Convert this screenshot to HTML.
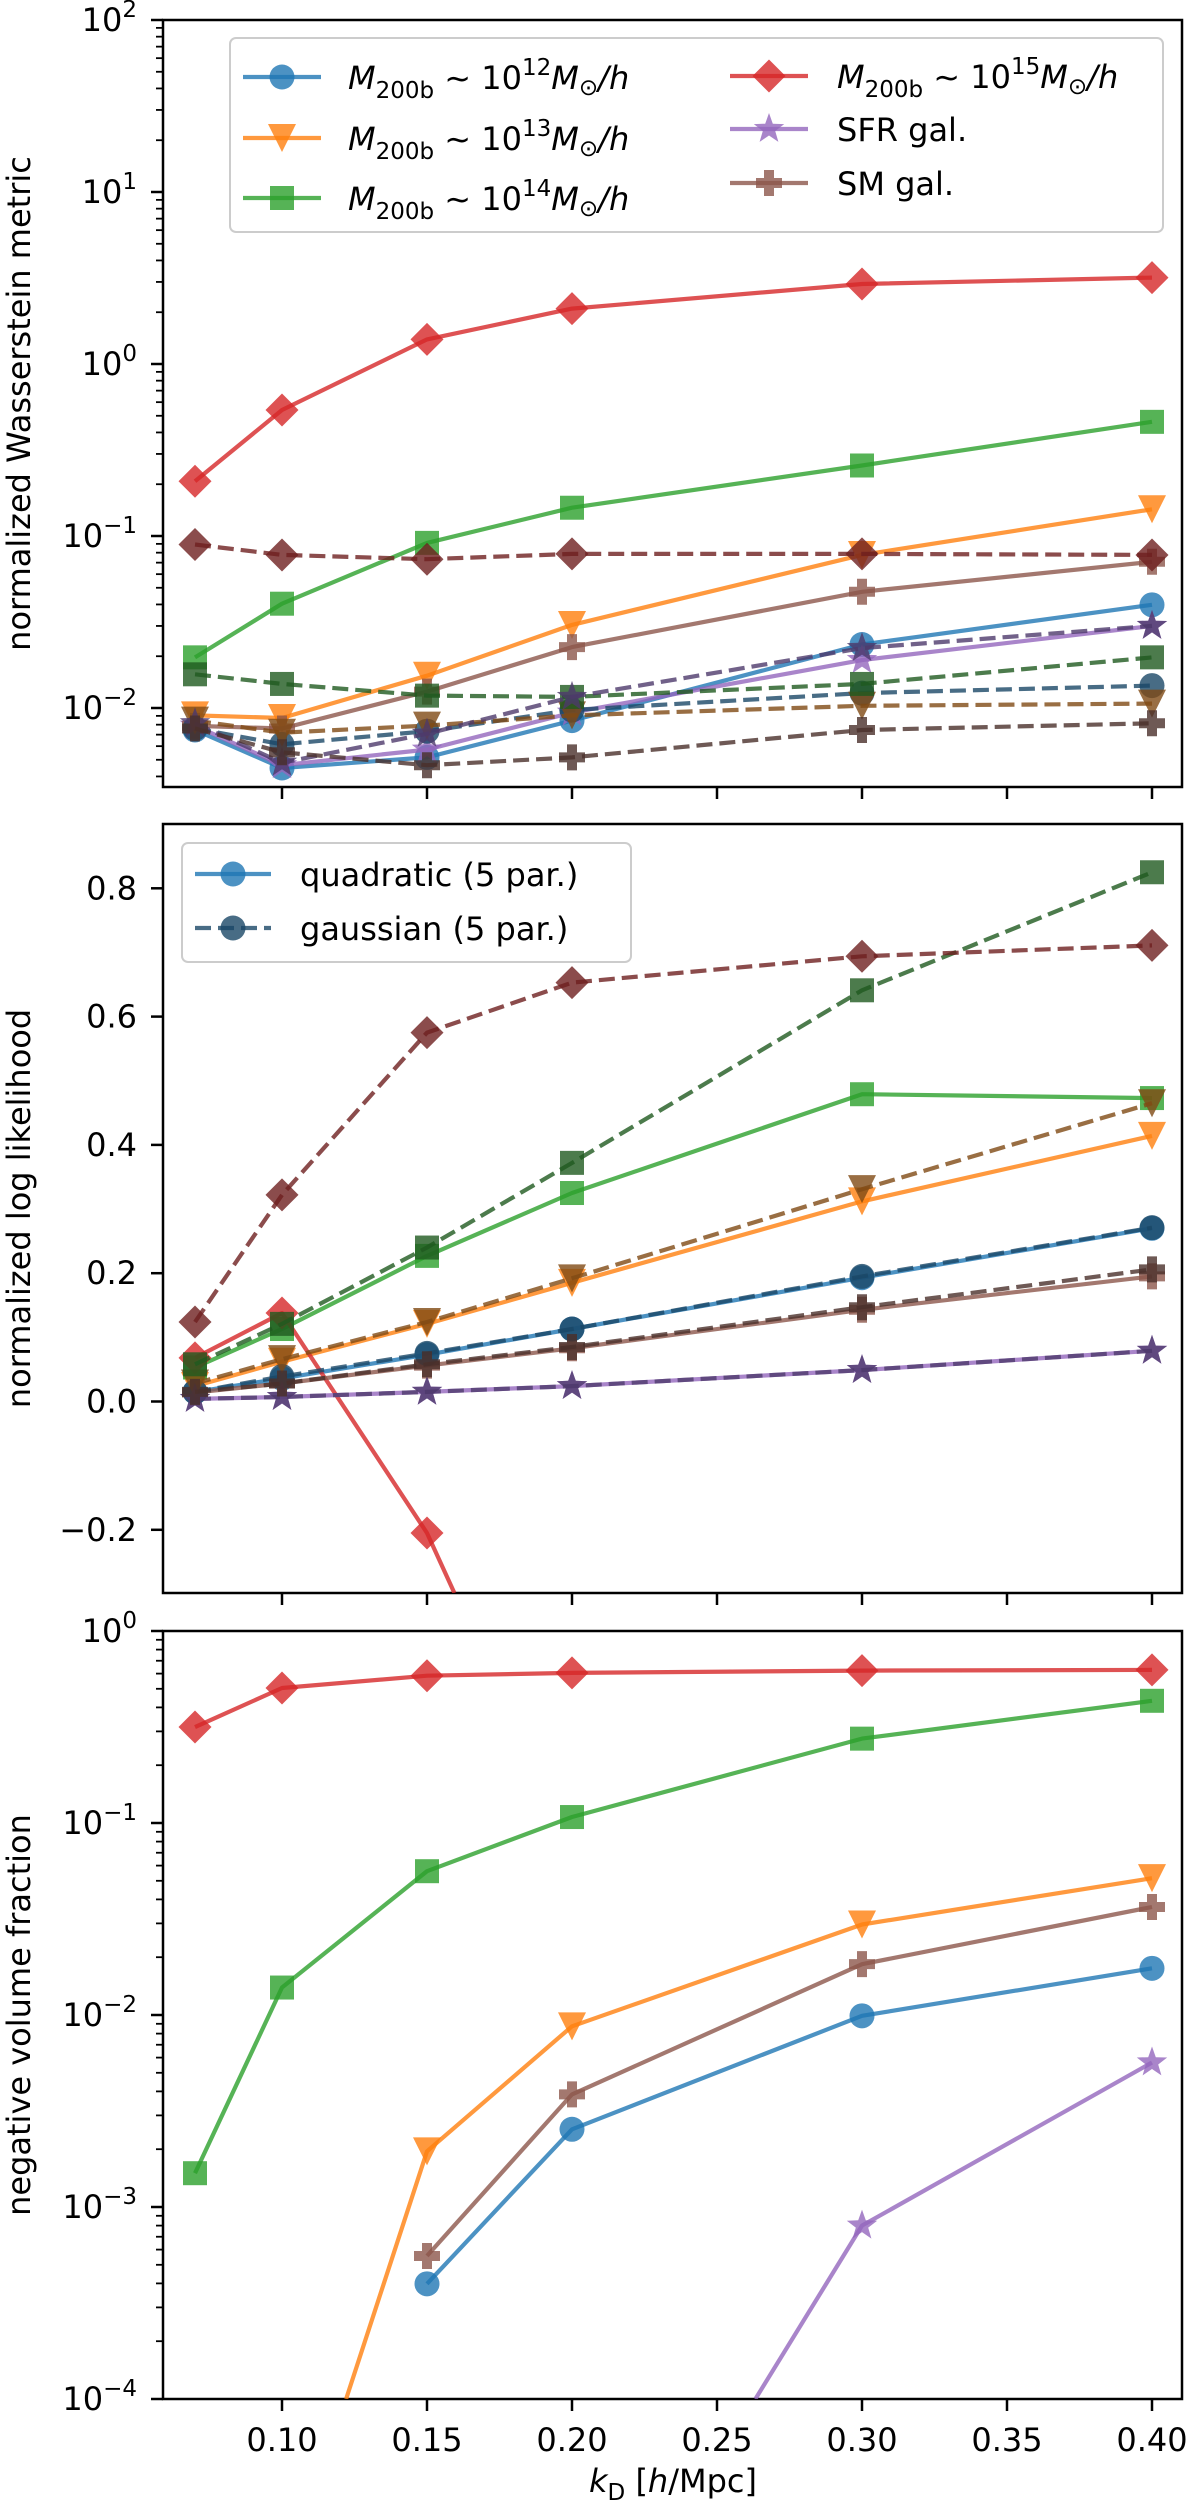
<!DOCTYPE html>
<html><head><meta charset="utf-8"><style>
html,body{margin:0;padding:0;background:#fff;width:1200px;height:2510px;overflow:hidden;}
svg{display:block;overflow:hidden;font-family:"DejaVu Sans","Liberation Sans",sans-serif;}
</style></head><body>
<svg id="fig" width="1200" height="2510" viewBox="0 0 1200 2510" xmlns="http://www.w3.org/2000/svg">
<defs>
<clipPath id="c1"><rect x="163" y="20" width="1019" height="767"/></clipPath>
<clipPath id="c2"><rect x="163" y="824" width="1019" height="769"/></clipPath>
<clipPath id="c3"><rect x="163" y="1631" width="1019" height="768"/></clipPath>
</defs>
<g id="root"></g>
</svg>
<script>
const ks = [0.07, 0.10, 0.15, 0.20, 0.30, 0.40];
// Panel 1: normalized Wasserstein metric (quadratic solid)
const w_m12 = [0.00745, 0.00448, 0.00516, 0.00845, 0.0234, 0.0398];
const w_m13 = [0.00906, 0.00875, 0.0154, 0.0304, 0.0776, 0.143];
const w_m14 = [0.0197, 0.0404, 0.0912, 0.146, 0.257, 0.461];
const w_m15 = [0.208, 0.54, 1.39, 2.1, 2.92, 3.18];
const w_sfr = [0.0079, 0.00465, 0.00573, 0.0094, 0.019, 0.030];
const w_sm  = [0.00787, 0.0076, 0.01245, 0.0226, 0.0474, 0.0708];
// Panel 1 gaussian dashed
const wg_m12 = [0.0076, 0.00615, 0.00733, 0.00973, 0.0122, 0.0135];
const wg_m13 = [0.00845, 0.00718, 0.0079, 0.00906, 0.0103, 0.0106];
const wg_m14 = [0.0157, 0.0138, 0.0118, 0.0116, 0.0138, 0.0197];
const wg_m15 = [0.0893, 0.0776, 0.0733, 0.0787, 0.0787, 0.0776];
const wg_sfr = [0.00815, 0.00481, 0.00708, 0.0116, 0.0223, 0.030];
const wg_sm  = [0.0076, 0.00553, 0.00465, 0.00516, 0.00745, 0.00815];
// Panel 2: normalized log likelihood
const l_m12 = [0.015, 0.036, 0.073, 0.113, 0.193, 0.270];
const l_m13 = [0.024, 0.062, 0.121, 0.185, 0.312, 0.414];
const l_m14 = [0.053, 0.113, 0.227, 0.325, 0.479, 0.473];
const l_m15 = [0.068, 0.138, -0.205, -0.70, -1.5, -2.0];
const l_sfr = [0.004, 0.007, 0.015, 0.024, 0.049, 0.079];
const l_sm  = [0.014, 0.028, 0.056, 0.083, 0.143, 0.195];
const lg_m12 = [0.015, 0.039, 0.075, 0.113, 0.195, 0.271];
const lg_m13 = [0.028, 0.066, 0.124, 0.192, 0.331, 0.465];
const lg_m14 = [0.058, 0.121, 0.240, 0.372, 0.641, 0.825];
const lg_m15 = [0.124, 0.322, 0.575, 0.653, 0.694, 0.711];
const lg_sfr = [0.004, 0.007, 0.015, 0.024, 0.049, 0.079];
const lg_sm  = [0.015, 0.028, 0.058, 0.085, 0.147, 0.206];
// Panel 3: negative volume fraction (null = zero)
const n_m12 = [null, null, 0.000398, 0.00254, 0.0099, 0.0175];
const n_m13 = [null, 0.0000095, 0.00195, 0.00873, 0.0296, 0.0516];
const n_m14 = [0.0015, 0.0139, 0.0561, 0.1074, 0.275, 0.433];
const n_m15 = [0.316, 0.505, 0.585, 0.605, 0.622, 0.627];
const n_sfr = [null, null, null, 0.0000028, 0.00080, 0.00566];
const n_sm  = [null, null, 0.000556, 0.00386, 0.0184, 0.0365];
const xTicks = [0.10, 0.15, 0.20, 0.25, 0.30, 0.35, 0.40];
const xTickLabels = ["0.10","0.15","0.20","0.25","0.30","0.35","0.40"];
const linTicks = [-0.2, 0.0, 0.2, 0.4, 0.6, 0.8];
const linTickLabels = ["\u22120.2","0.0","0.2","0.4","0.6","0.8"];

const NS = "http://www.w3.org/2000/svg";
const root = document.getElementById('root');
const L = 163, R = 1182;
function X(k){ return 1152 - (0.4 - k) * 2900; }
const P = [
  {top:20, bot:787, y:v => 20 + (2 - Math.log10(v)) * 172, clip:'c1'},
  {top:824, bot:1593, y:v => 1401.5 - v * 641.5, clip:'c2'},
  {top:1631, bot:2399, y:v => 1631 + (0 - Math.log10(v)) * 192, clip:'c3'}
];
function mk(tag, attrs, parent){
  const e = document.createElementNS(NS, tag);
  for (const a in attrs) e.setAttribute(a, attrs[a]);
  (parent || root).appendChild(e);
  return e;
}
const C = {m12:'#1f77b4', m13:'#ff7f0e', m14:'#2ca02c', m15:'#d62728', sfr:'#9467bd', sm:'#8c564b'};
const D = {m12:'#1a4766', m13:'#7f4a14', m14:'#1f5a1f', m15:'#6e1f1f', sfr:'#4e3a6b', sm:'#4a302a'};
const MK = {m12:'o', m13:'v', m14:'s', m15:'D', sfr:'*', sm:'P'};
function marker(type, cx, cy, color, g, s){
  s = s || 1;
  let e;
  if (type === 'o') e = mk('circle', {cx:cx, cy:cy, r:12.5*s}, g);
  else if (type === 'v') { const a=14*s; e = mk('polygon', {points:`${cx-a},${cy-a} ${cx+a},${cy-a} ${cx},${cy+a}`}, g); }
  else if (type === 's') { const a=12*s; e = mk('rect', {x:cx-a, y:cy-a, width:2*a, height:2*a}, g); }
  else if (type === 'D') { const a=16.5*s; e = mk('polygon', {points:`${cx},${cy-a} ${cx+a},${cy} ${cx},${cy+a} ${cx-a},${cy}`}, g); }
  else if (type === '*') {
    let pts=[]; for (let i=0;i<10;i++){ const r=(i%2?6.5:16)*s; const t=-Math.PI/2+i*Math.PI/5; pts.push((cx+r*Math.cos(t)).toFixed(1)+','+(cy+r*Math.sin(t)).toFixed(1)); }
    e = mk('polygon', {points:pts.join(' ')}, g);
  } else { const a=13*s, b=5*s; e = mk('polygon', {points:`${cx-b},${cy-a} ${cx+b},${cy-a} ${cx+b},${cy-b} ${cx+a},${cy-b} ${cx+a},${cy+b} ${cx+b},${cy+b} ${cx+b},${cy+a} ${cx-b},${cy+a} ${cx-b},${cy+b} ${cx-a},${cy+b} ${cx-a},${cy-b} ${cx-b},${cy-b}`}, g); }
  e.setAttribute('fill', color);
  e.setAttribute('fill-opacity', '0.8');
  return e;
}
// clip a segment to y range [top, bot]; returns null if fully outside
function clipSeg(a, b, top, bot){
  let [x1,y1] = a, [x2,y2] = b;
  if ((y1 < top && y2 < top) || (y1 > bot && y2 > bot)) return null;
  function at(y){ const t = (y - y1) / (y2 - y1); return [x1 + t*(x2-x1), y]; }
  let p = [x1,y1], q = [x2,y2];
  if (y1 < top) p = at(top); else if (y1 > bot) p = at(bot);
  if (y2 < top) q = at(top); else if (y2 > bot) q = at(bot);
  return [p, q];
}
function series(pi, vals, key, dashed, name){
  const p = P[pi];
  const g = mk('g', {'clip-path':`url(#${p.clip})`});
  
  
  const col = dashed ? D[key] : C[key];
  let segs = [], cur = [];
  vals.forEach((v,i)=>{ if (v===null || v<=0 && pi!==1){ if(cur.length) segs.push(cur); cur=[]; } else cur.push([X(ks[i]), p.y(v)]); });
  if (cur.length) segs.push(cur);
  // clip each run to the panel
  let runs = [];
  segs.forEach(s=>{
    if (s.length === 1) return;
    let run = [];
    for (let i=0;i<s.length-1;i++){
      const c = clipSeg(s[i], s[i+1], p.top, p.bot);
      if (!c) { if (run.length) runs.push(run); run = []; continue; }
      if (!run.length) run.push(c[0]);
      else { const last = run[run.length-1]; if (Math.abs(last[0]-c[0][0])>0.01 || Math.abs(last[1]-c[0][1])>0.01) { runs.push(run); run=[c[0]]; } }
      run.push(c[1]);
      if (c[1][0] !== s[i+1][0] || c[1][1] !== s[i+1][1]) { runs.push(run); run = []; }
    }
    if (run.length) runs.push(run);
  });
  runs.forEach(s=>{
    const pl = mk('polyline', {points:s.map(q=>q[0].toFixed(1)+','+q[1].toFixed(1)).join(' '), fill:'none', stroke:col, 'stroke-width':4.2, 'stroke-opacity':0.8, 'stroke-linejoin':'round'}, g);
    if (dashed) pl.setAttribute('stroke-dasharray', '16 7');
    
    
  });
  vals.forEach((v,i)=>{ if (v===null || (v<=0 && pi!==1)) return;
    const cy = p.y(v); if (cy < p.top-10 || cy > p.bot+10) return;
    const m = marker(MK[key], X(ks[i]), cy, col, g);
    
    
  });
}
function txt(x, y, s, attrs){
  const t = mk('text', Object.assign({x:x, y:y, 'font-size':32, fill:'#000'}, attrs||{}));
  t.textContent = s; return t;
}
function pow10Label(x, y, n){
  const t = mk('text', {x:x, y:y, 'font-size':32, 'text-anchor':'end', fill:'#000'});
  
  
  const a = mk('tspan', {}, t); a.textContent = '10';
  const b = mk('tspan', {dy:-14, 'font-size':23}, t); b.textContent = n < 0 ? '\u2212' + (-n) : String(n);
}
// axes frames & ticks
P.forEach((p,pi)=>{
  const f = mk('rect', {x:L, y:p.top, width:R-L, height:p.bot-p.top, fill:'none', stroke:'#000', 'stroke-width':2.5});
  
  
  xTicks.forEach((k,i)=>{
    const t = mk('line', {x1:X(k), x2:X(k), y1:p.bot, y2:p.bot+12, stroke:'#000', 'stroke-width':2.5});
    
    
    if (pi === 2) { const lb = txt(X(k), p.bot+52, xTickLabels[i], {'text-anchor':'middle'});   }
  });
  if (pi !== 1) {
    const lo = pi===0 ? -3 : -4, hi = pi===0 ? 2 : 0;
    for (let d=lo; d<=hi; d++){
      for (let m=1; m<=9; m++){
        const v = m*Math.pow(10,d), y = p.y(v);
        if (y < p.top-0.5 || y > p.bot+0.5) continue;
        const ml = mk('line', {x1:L, x2:L-(m===1?12:7), y1:y, y2:y, stroke:'#000', 'stroke-width':m===1?2.5:1.8});
        
        
        if (m===1) pow10Label(137, y+11, d);
      }
    }
  } else {
    linTicks.forEach((v,i)=>{
      const y = p.y(v);
      const tl = mk('line', {x1:L, x2:L-12, y1:y, y2:y, stroke:'#000', 'stroke-width':2.5});
      
      
      const lb = txt(137, y+11, linTickLabels[i], {'text-anchor':'end'});
      
      
    });
  }
});
// y-axis titles
[["normalized Wasserstein metric",0],["normalized log likelihood",1],["negative volume fraction",2]].forEach(([s,pi])=>{
  const cy = (P[pi].top + P[pi].bot)/2;
  const t = txt(0, 0, s, {'text-anchor':'middle', transform:`translate(30,${cy}) rotate(-90)`});
  
  
});
// x-axis title
(function(){
  const t = mk('text', {x:673, y:2492, 'font-size':32, 'text-anchor':'middle'});
  
  
  const a = mk('tspan', {'font-style':'italic'}, t); a.textContent = 'k';
  const b = mk('tspan', {dy:8, 'font-size':23}, t); b.textContent = 'D';
  const c = mk('tspan', {dy:-8}, t); c.textContent = ' [';
  const d = mk('tspan', {'font-style':'italic'}, t); d.textContent = 'h';
  const e = mk('tspan', {}, t); e.textContent = '/Mpc]';
})();
const keys = ['m12','m13','m14','m15','sfr','sm'];
const W = [w_m12,w_m13,w_m14,w_m15,w_sfr,w_sm], WG=[wg_m12,wg_m13,wg_m14,wg_m15,wg_sfr,wg_sm];
const LL = [l_m12,l_m13,l_m14,l_m15,l_sfr,l_sm], LG=[lg_m12,lg_m13,lg_m14,lg_m15,lg_sfr,lg_sm];
const NV = [n_m12,n_m13,n_m14,n_m15,n_sfr,n_sm];
keys.forEach((k,i)=> series(0, W[i], k, false, 'wasserstein-' + k));
keys.forEach((k,i)=> series(0, WG[i], k, true, 'wasserstein-gauss-' + k));
keys.forEach((k,i)=> series(1, LL[i], k, false, 'loglike-' + k));
keys.forEach((k,i)=> series(1, LG[i], k, true, 'loglike-gauss-' + k));
keys.forEach((k,i)=> series(2, NV[i], k, false, 'negvol-' + k));
// legends
function legendHandle(x1, x2, y, key, color, dashed, g){
  const l = mk('line', {x1:x1, x2:x2, y1:y, y2:y, stroke:color, 'stroke-width':4.2, 'stroke-opacity':0.8}, g);
  if (dashed) l.setAttribute('stroke-dasharray','16 7');
  marker(MK[key], (x1+x2)/2, y, color, g);
}
(function(){
  const g = mk('g', {});
  
  
  mk('rect', {x:230, y:38, width:933, height:194, rx:6, fill:'#fff', 'fill-opacity':0.8, stroke:'#ccc', 'stroke-width':2}, g);
  const col1 = [['m12','12',77],['m13','13',138],['m14','14',198]];
  col1.concat([['m15','15',76]]).forEach(([k,e,y],i)=>{
    const e1 = mk('g', {}, g);
    
    
    const x0 = i<3 ? 243 : 730, tx = i<3 ? 348 : 837;
    legendHandle(x0, x0+78, y, k, C[k], false, e1);
    const t = mk('text', {x:tx, y:y+12, 'font-size':32}, e1);
    const a = mk('tspan', {'font-style':'italic'}, t); a.textContent = 'M';
    const b = mk('tspan', {dy:9, 'font-size':23}, t); b.textContent = '200b';
    const c = mk('tspan', {dy:-9}, t); c.textContent = ' ~ 10';
    const d = mk('tspan', {dy:-14, 'font-size':23}, t); d.textContent = e;
    const f = mk('tspan', {dy:14, 'font-style':'italic'}, t); f.textContent = 'M';
    const h = mk('tspan', {dy:6, 'font-size':23}, t); h.textContent = '\u2299';
    const j = mk('tspan', {dy:-6, 'font-style':'italic'}, t); j.textContent = '/h';
  });
  [['sfr','SFR gal.',129],['sm','SM gal.',183]].forEach(([k,s,y])=>{
    const e1 = mk('g', {}, g);
    
    
    legendHandle(730, 808, y, k, C[k], false, e1);
    const t = mk('text', {x:837, y:y+12, 'font-size':32}, e1); t.textContent = s;
  });
})();
(function(){
  const g = mk('g', {});
  
  
  mk('rect', {x:182, y:843, width:449, height:119, rx:6, fill:'#fff', 'fill-opacity':0.8, stroke:'#ccc', 'stroke-width':2}, g);
  [['quadratic (5 par.)',874,false],['gaussian (5 par.)',928,true]].forEach(([s,y,d])=>{
    const e1 = mk('g', {}, g);
    
    
    legendHandle(195, 271, y, 'm12', d ? D.m12 : C.m12, d, e1);
    const t = mk('text', {x:300, y:y+12, 'font-size':32}, e1); t.textContent = s;
  });
})();
</script>
</body></html>
